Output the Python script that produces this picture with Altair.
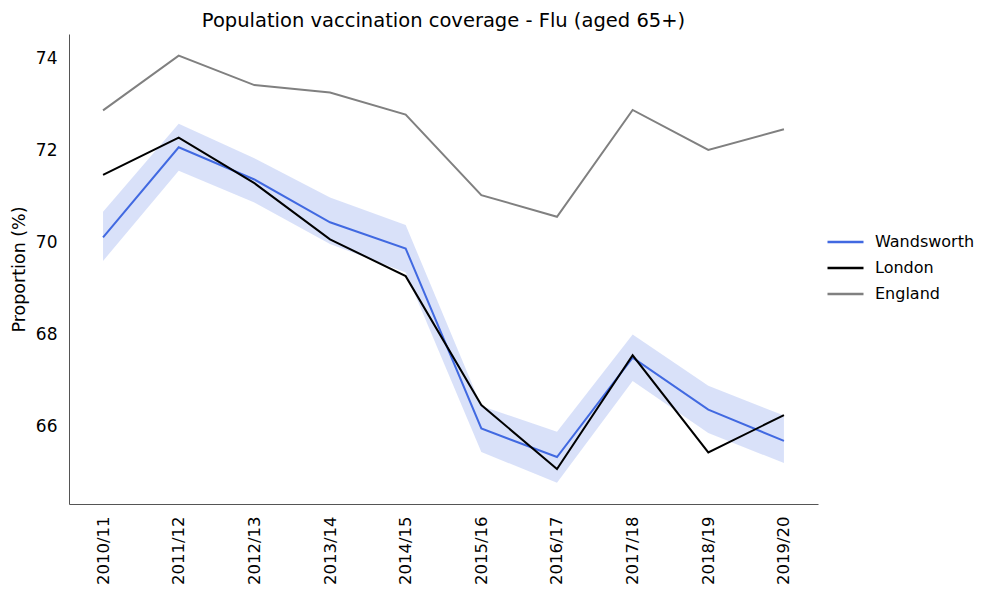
import altair as alt
import pandas as pd

years = ["2010/11", "2011/12", "2012/13", "2013/14", "2014/15",
         "2015/16", "2016/17", "2017/18", "2018/19", "2019/20"]
wandsworth = [70.11, 72.07, 71.37, 70.44, 69.87, 65.96, 65.34, 67.50, 66.37, 65.69]
wand_lower = [69.60, 71.56, 70.87, 69.97, 69.35, 65.45, 64.78, 66.99, 65.86, 65.21]
wand_upper = [70.67, 72.58, 71.83, 70.98, 70.38, 66.45, 65.89, 68.00, 66.89, 66.24]
london = [71.47, 72.28, 71.29, 70.07, 69.27, 66.47, 65.08, 67.55, 65.44, 66.25]
england = [72.87, 74.06, 73.42, 73.26, 72.78, 71.03, 70.56, 72.88, 72.01, 72.46]

areas = ["Wandsworth", "London", "England"]
colors = ["#4169E1", "#000000", "#808080"]

rows = []
for name, vals in zip(areas, [wandsworth, london, england]):
    for y, v in zip(years, vals):
        rows.append({"Year": y, "Area": name, "Value": v})
lines_df = pd.DataFrame(rows)
band_df = pd.DataFrame({"Year": years, "lower": wand_lower, "upper": wand_upper})

FONT = "DejaVu Sans"

x_enc = alt.X("Year:N", sort=years, title=None,
              scale=alt.Scale(type="point", padding=0.45),
              axis=alt.Axis(labelAngle=-90, tickSize=0, labelPadding=12,
                            labelFontSize=16.5, labelFont=FONT, labelColor="#000",
                            domainColor="#555", grid=False))
y_scale = alt.Scale(domain=[64.32, 74.53], nice=False, zero=False)

band = alt.Chart(band_df).mark_area(color="#4169E1", opacity=0.2).encode(
    x=x_enc,
    y=alt.Y("lower:Q", scale=y_scale, title="Proportion (%)",
            axis=alt.Axis(values=[66, 68, 70, 72, 74], tickSize=0, labelPadding=12,
                          labelFontSize=17, labelFont=FONT, labelColor="#000",
                          titleFontSize=17.5, titleFont=FONT, titleFontWeight="normal",
                          titleColor="#000", titlePadding=7,
                          domainColor="#555", grid=False)),
    y2="upper:Q",
)

lines = alt.Chart(lines_df).mark_line(strokeWidth=2).encode(
    x=alt.X("Year:N", sort=years, scale=alt.Scale(type="point", padding=0.45)),
    y=alt.Y("Value:Q", scale=y_scale),
    color=alt.Color("Area:N", sort=areas,
                    scale=alt.Scale(domain=areas, range=colors),
                    legend=alt.Legend(title=None, orient="none", legendX=757, legendY=200,
                                      symbolType="M-1,0L1,0", symbolSize=1296,
                                      symbolStrokeWidth=2.5, labelFontSize=16,
                                      labelFont=FONT, labelColor="#000",
                                      labelOffset=10, rowPadding=10, clipHeight=16,
                                      padding=0)),
    order=alt.Order("Year:N"),
)

chart = alt.layer(band, lines).properties(
    width=749, height=470,
    title=alt.TitleParams("Population vaccination coverage - Flu (aged 65+)",
                          fontSize=19.5, font=FONT, fontWeight="normal",
                          color="#000", anchor="middle", offset=3),
    autosize=alt.AutoSizeParams(type="none"),
    padding={"left": 61, "top": 26, "right": 158, "bottom": 81},
).configure_view(stroke=None)

chart.save("out.html", embed_options={"renderer": "svg", "actions": False})
